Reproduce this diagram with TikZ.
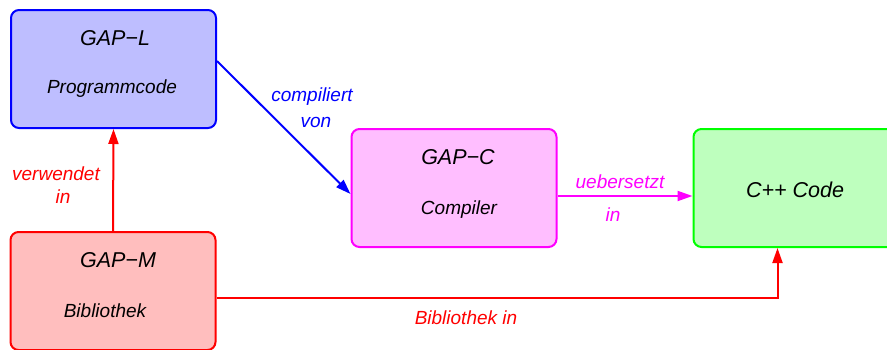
\documentclass[tikz,border=0pt]{standalone}
\usepackage{fontspec}
\setmainfont{Liberation Sans}
\usetikzlibrary{arrows.meta,calc}
\definecolor{fillL}{RGB}{190,190,255}
\definecolor{fillM}{RGB}{255,190,190}
\definecolor{fillC}{RGB}{255,190,255}
\definecolor{fillCC}{RGB}{190,255,190}
\definecolor{lineL}{RGB}{0,0,255}
\definecolor{lineM}{RGB}{255,0,0}
\definecolor{lineC}{RGB}{255,0,255}
\definecolor{lineCC}{RGB}{0,255,0}
\tikzset{
  box/.style={rectangle, rounded corners=8pt, line width=2pt, minimum width=205pt, minimum height=118pt, inner sep=0pt},
  title/.style={font=\fontsize{21.5}{24}\selectfont\itshape, inner sep=0pt},
  sub/.style={font=\fontsize{19}{22}\selectfont\itshape, inner sep=0pt},
  conn/.style={line width=2pt, -{Triangle[length=15pt,width=10pt]}},
}
\begin{document}
\begin{tikzpicture}[x=1pt,y=-1pt]
\useasboundingbox (0,0) rectangle (887,349);
\clip (0,0) rectangle (887,349);
% boxes
\node[box, draw=lineL, fill=fillL] (L) at (113.5,69) {};
\node[box, draw=lineM, fill=fillM] (M) at (113,291) {};
\node[box, draw=lineC, fill=fillC] (C) at (454,188) {};
\node[box, draw=lineCC, fill=fillCC] (CC) at (796,188) {};
% box texts
\node[title] (Lt) at (115,38) {GAP−L};
\node[sub] (Ls) at (112,89) {Programmcode};
\node[title] (Mt) at (118,260) {GAP−M};
\node[sub] (Ms) at (105,311) {Bibliothek};
\node[title] (Ct) at (458,157) {GAP−C};
\node[sub] (Cs) at (459,210) {Compiler};
\node[title] (CCt) at (795,190) {C++ Code};
% connectors
\draw[conn, lineM] (M.north) -- (L.south);
\draw[conn, lineL] ($(L.north east)+(0,52)$) -- ($(C.north west)+(0,66)$);
\draw[conn, lineC] ($(C.north east)+(0,68)$) -- ($(CC.north west)+(0,68)$);
\coordinate (mstart) at ($(M.north east)+(0,67)$);
\coordinate (ccend) at ($(CC.south west)+(85,0)$);
\draw[conn, lineM] (mstart) -| (ccend);
% labels
\node[sub, text=lineM] (v1) at (56,174) {verwendet};
\node[sub, text=lineM] (v2) at (63,197) {in};
\node[sub, text=lineL] (c1) at (312,97) {compiliert};
\node[sub, text=lineL] (c2) at (316,122) {von};
\node[sub, text=lineC] (u1) at (620,182) {uebersetzt};
\node[sub, text=lineC] (u2) at (613,215) {in};
\node[sub, text=lineM] (b1) at (466,318) {Bibliothek in};
\end{tikzpicture}
\end{document}
